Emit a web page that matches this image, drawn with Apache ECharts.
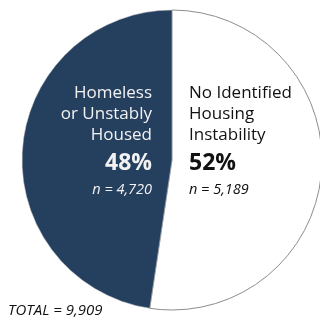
<!DOCTYPE html>
<html>
<head>
<meta charset="utf-8">
<script src="https://cdn.jsdelivr.net/npm/echarts@6/dist/echarts.min.js"></script>
<style>
  html, body { margin:0; padding:0; background:#fff; }
  #chart { width:320px; height:320px; }
</style>
</head>
<body>
<div id="chart"></div>
<script>
// --- data
const categories = ["No Identified Housing Instability", "Homeless or Unstably Housed"];
const labelLines = [["No Identified", "Housing", "Instability"], ["Homeless", "or Unstably", "Housed"]];
const counts = [5189, 4720];
const sliceColors = ["#ffffff", "#253f5f"];
const textColors = ["#111111", "#f2f2f2"];

const total = counts.reduce((s, v) => s + v, 0);
const pct = counts.map(v => Math.round(v / total * 100) + "%");
const fmt = v => v.toLocaleString("en-US");

const chart = echarts.init(document.getElementById("chart"));

const FONT = "'Open Sans', sans-serif";
const lineY = [93, 114, 135];

// text blocks: right slice left-aligned, left slice right-aligned
function block(i, x, align) {
  const els = labelLines[i].map((t, k) => ({
    type: "text", z: 100, x: x, y: lineY[k],
    style: { text: t, fill: textColors[i], font: "17px " + FONT, textAlign: align, textVerticalAlign: "middle" }
  }));
  els.push({
    type: "text", z: 100, x: x, y: 163,
    style: { text: pct[i], fill: textColors[i], font: "bold 23px " + FONT, textAlign: align, textVerticalAlign: "middle" }
  });
  els.push({
    type: "text", z: 100, x: x, y: 190,
    style: { text: "n = " + fmt(counts[i]), fill: textColors[i], font: "italic 14.5px " + FONT, textAlign: align, textVerticalAlign: "middle" }
  });
  return els;
}

chart.setOption({
  animation: false,
  series: [{
    type: "pie",
    center: [172, 160],
    radius: [0, 150],
    startAngle: 90,
    clockwise: true,
    label: { show: false },
    labelLine: { show: false },
    silent: true,
    data: categories.map((c, i) => ({
      name: c,
      value: counts[i],
      itemStyle: i === 0
        ? { color: sliceColors[i], borderColor: "#8c8c8c", borderWidth: 1 }
        : { color: sliceColors[i], borderColor: "#d0d0d0", borderWidth: 0.5 }
    }))
  }],
  graphic: [
    ...block(1, 152, "right"),
    ...block(0, 189, "left"),
    {
      type: "text", z: 100, x: 8, y: 311,
      style: { text: "TOTAL = " + fmt(total), fill: "#111", font: "italic 15px " + FONT, textAlign: "left", textVerticalAlign: "middle" }
    }
  ]
});
</script>
</body>
</html>
